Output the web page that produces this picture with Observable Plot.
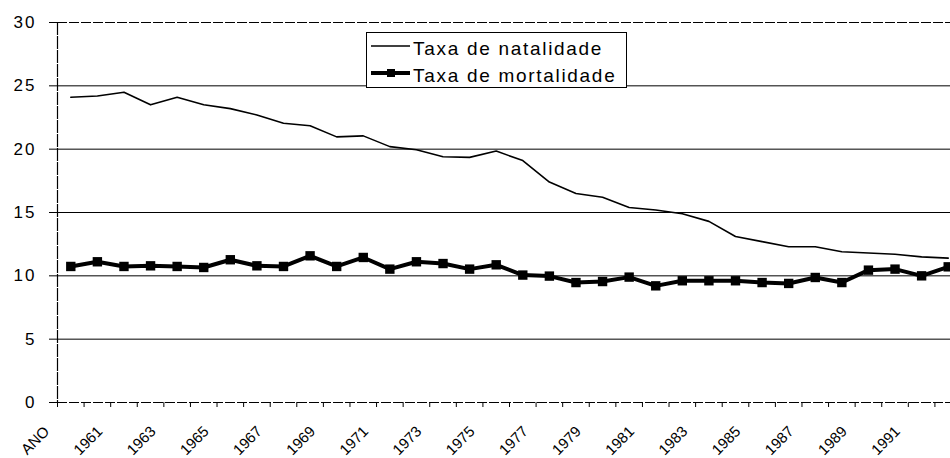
<!DOCTYPE html>
<html>
<head>
<meta charset="utf-8">
<script src="https://cdn.jsdelivr.net/npm/d3@7"></script>
<script src="https://cdn.jsdelivr.net/npm/@observablehq/plot@0.6"></script>
<style>
  body { margin: 0; background: #fff; }
  #wrap { position: relative; width: 950px; height: 458px; overflow: hidden; font-family: "Liberation Sans", Arial, sans-serif; }
  #legend { position: absolute; left: 366px; top: 32px; }
</style>
</head>
<body>
<div id="wrap"><div id="chart"></div><svg id="legend" width="262" height="57"></svg></div>
<script>
// Categories as they appear on the original category axis (label row begins with the header "ANO")
const categorias = ["ANO","1960","1961","1962","1963","1964","1965","1966","1967","1968","1969",
  "1970","1971","1972","1973","1974","1975","1976","1977","1978","1979","1980","1981","1982",
  "1983","1984","1985","1986","1987","1988","1989","1990","1991","1992"];
// Tick labels shown (every other category)
const rotulosX = ["ANO","1961","1963","1965","1967","1969","1971","1973","1975","1977","1979",
  "1981","1983","1985","1987","1989","1991"];
const rotulosY = [0, 5, 10, 15, 20, 25, 30];
// Series
const natalidade = [24.1, 24.2, 24.5, 23.5, 24.1, 23.5, 23.2, 22.7, 22.05, 21.85, 20.97, 21.05,
  20.2, 19.95, 19.4, 19.35, 19.85, 19.1, 17.4, 16.5, 16.2, 15.4, 15.2, 14.9, 14.3, 13.1, 12.7,
  12.3, 12.3, 11.9, 11.8, 11.7, 11.5, 11.4];
const mortalidade = [10.74, 11.11, 10.74, 10.79, 10.74, 10.66, 11.27, 10.79, 10.74, 11.58, 10.74,
  11.45, 10.53, 11.11, 10.97, 10.53, 10.87, 10.06, 9.98, 9.47, 9.55, 9.9, 9.21, 9.61, 9.61, 9.61,
  9.47, 9.4, 9.87, 9.47, 10.45, 10.53, 10.0, 10.71];
const serieNomes = ["Taxa de natalidade", "Taxa de mortalidade"];

const dados = categorias.map((c, i) => ({ano: c, nat: natalidade[i], mort: mortalidade[i]}));

const W = 950, H = 458, ML = 57, MR = -11, MT = 22, MB = 56;
const bw = (W - ML - MR) / categorias.length;
const FONT = "Liberation Sans, Arial, sans-serif";

const chart = Plot.plot({
  width: W, height: H,
  marginLeft: ML, marginRight: MR, marginTop: MT, marginBottom: MB,
  style: {fontFamily: FONT, background: "white", color: "black", overflow: "hidden"},
  x: {type: "band", domain: categorias, padding: 0, round: false, axis: null},
  y: {domain: [0, 30], axis: null},
  marks: [
    Plot.ruleY([5, 10, 15, 20, 25], {stroke: "black", strokeWidth: 1}),
    Plot.ruleY([0, 30], {stroke: "black", strokeWidth: 1.2, strokeDasharray: "10,2"}),
    Plot.frame({anchor: "left", stroke: "black", strokeWidth: 1.2, strokeDasharray: "12,2"}),
    Plot.axisY({ticks: rotulosY, tickSize: 8, tickPadding: 13, fontSize: 17, tickFormat: d => String(d), stroke: "black", label: null}),
    Plot.axisX({ticks: categorias, tickSize: 5, tickFormat: () => "", dx: -bw / 2, stroke: "black", label: null}),
    Plot.axisX({ticks: rotulosX, tickSize: 0, tickRotate: -45, tickPadding: 26.5, fontSize: 15, dx: -24, label: null}),
    Plot.line(dados, {x: "ano", y: "nat", stroke: "black", strokeWidth: 1.6}),
    Plot.line(dados, {x: "ano", y: "mort", stroke: "black", strokeWidth: 4}),
    Plot.dot(dados, {x: "ano", y: "mort", symbol: "square", r: 5.3, fill: "black", stroke: "none"})
  ]
});
document.getElementById("chart").appendChild(chart);
d3.select(chart).selectAll('g[aria-label="y-axis tick label"] text').attr("letter-spacing", "2");

// Legend (inside the plot area, as in the original)
const leg = d3.select("#legend");
leg.append("rect").attr("x", 0.5).attr("y", 0.5).attr("width", 260).attr("height", 55)
  .attr("fill", "white").attr("stroke", "black").attr("stroke-width", 1);
leg.append("line").attr("x1", 5).attr("x2", 44).attr("y1", 14).attr("y2", 14)
  .attr("stroke", "black").attr("stroke-width", 1.6);
leg.append("line").attr("x1", 5).attr("x2", 44).attr("y1", 41).attr("y2", 41)
  .attr("stroke", "black").attr("stroke-width", 4);
leg.append("rect").attr("x", 21).attr("y", 37).attr("width", 8).attr("height", 8).attr("fill", "black");
leg.selectAll("text.nome").data(serieNomes).join("text")
  .attr("x", 47).attr("y", (d, i) => 23 + i * 27.3)
  .attr("font-family", FONT).attr("font-size", 19).attr("letter-spacing", 1.7)
  .attr("fill", "black").text(d => d);
</script>
</body>
</html>
